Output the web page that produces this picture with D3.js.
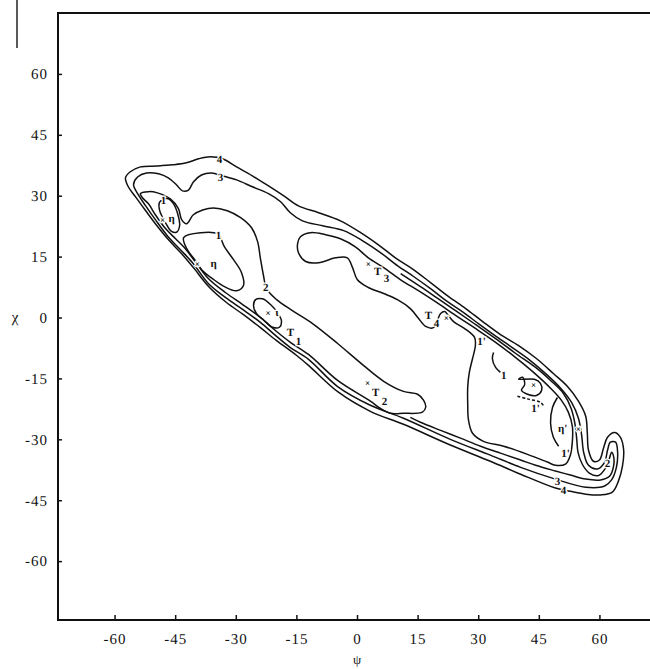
<!DOCTYPE html>
<html>
<head>
<meta charset="utf-8">
<script src="https://cdn.jsdelivr.net/npm/d3@7"></script>
<style>
  body { margin: 0; background: #fff; }
  svg { display: block; }
</style>
</head>
<body>
<div id="chart"></div>
<script>
// psi / chi energy contour map (degrees)
const xTicks = [-60, -45, -30, -15, 0, 15, 30, 45, 60];
const yTicks = [-60, -45, -30, -15, 0, 15, 30, 45, 60];

// outermost contour (4)
const contour4 = [[-57.3,34.4],[-56.1,35.9],[-53.6,37.1],[-49.6,37.3],[-45.7,37.6],[-42.2,38.1],[-39.2,39.1],[-36.3,39.6],[-33.3,39.1],[-29.8,37.1],[-25.9,34.9],[-21.9,32.4],[-18.2,30.0],[-14.5,27.5],[-9.5,25.8],[-4.1,23.8],[0.9,20.9],[5.3,17.9],[9.5,14.7],[13.7,12.0],[18.2,8.6],[22.6,5.2],[26.9,2.2],[31.1,-1.0],[35.5,-4.2],[40.0,-6.9],[44.4,-10.1],[48.6,-13.8],[52.1,-17.0],[54.8,-20.6],[56.6,-24.3],[57.0,-28.5],[57.3,-32.7],[58.5,-35.4],[60.0,-35.1],[61.0,-32.2],[62.0,-29.5],[63.7,-28.3],[65.2,-29.5],[66.0,-32.7],[65.7,-36.6],[64.7,-40.3],[63.2,-43.0],[60.3,-43.7],[56.6,-43.5],[52.8,-42.8],[49.1,-42.0],[40.5,-38.6],[33.0,-35.4],[23.1,-31.4],[11.5,-26.3],[3.3,-23.1],[-4.6,-18.4],[-12.0,-11.8],[-15.0,-9.3],[-19.9,-5.7],[-23.9,-2.5],[-28.1,0.7],[-32.3,3.7],[-36.5,7.4],[-40.5,12.3],[-43.4,15.7],[-46.7,19.2],[-49.9,23.1],[-52.3,26.3],[-54.8,29.7],[-56.6,32.2]];

// contour 3
const contour3 = [[-55.3,32.7],[-54.3,34.6],[-52.1,35.6],[-49.1,35.4],[-46.7,34.4],[-44.7,32.7],[-43.2,31.2],[-41.7,31.4],[-40.5,33.4],[-38.5,35.1],[-36.0,35.6],[-33.3,34.9],[-29.8,33.9],[-25.9,32.2],[-21.9,30.5],[-18.9,28.5],[-16.5,25.8],[-13.5,23.8],[-8.5,22.6],[-3.3,21.4],[1.4,18.9],[5.8,16.0],[10.0,12.8],[14.0,10.1],[18.2,7.1],[22.4,3.9],[26.4,1.2],[30.3,-1.7],[34.5,-4.7],[38.7,-7.6],[42.9,-10.6],[46.9,-14.0],[50.4,-17.4],[53.1,-20.9],[54.8,-24.8],[55.6,-29.0],[56.1,-33.2],[57.3,-36.4],[59.5,-37.3],[61.3,-35.6],[62.0,-32.7],[62.7,-30.7],[64.0,-30.7],[64.5,-33.2],[64.2,-36.9],[63.0,-40.0],[61.3,-41.5],[56.6,-41.8],[49.1,-39.8],[40.5,-36.9],[33.0,-33.9],[23.1,-30.0],[11.5,-24.8],[3.3,-21.6],[-4.8,-17.0],[-12.0,-10.3],[-16.5,-7.4],[-20.2,-4.4],[-23.9,-1.2],[-28.3,2.0],[-32.5,4.9],[-36.8,8.4],[-40.7,13.5],[-43.7,16.7],[-46.9,20.1],[-49.9,24.1],[-52.3,27.5],[-54.1,30.2]];

// contour 2, left part with the T2 lobe
const contour2 = [[-53.6,30.5],[-51.6,31.0],[-49.4,30.7],[-46.2,29.2],[-44.2,26.8],[-43.4,24.1],[-42.2,23.1],[-40.5,25.3],[-38.2,26.5],[-35.5,27.0],[-32.1,26.3],[-28.8,24.6],[-26.1,22.1],[-24.6,18.7],[-23.9,14.5],[-23.1,10.1],[-22.4,7.1],[-19.9,4.4],[-16.0,1.7],[-11.0,-1.5],[-4.8,-6.4],[1.6,-11.8],[6.6,-15.7],[11.5,-18.2],[15.0,-18.9],[16.5,-20.4],[17.0,-22.1],[16.2,-23.3],[11.5,-23.6],[8.3,-23.6],[5.8,-22.4],[3.3,-20.6],[-4.8,-15.5],[-12.0,-9.1],[-16.5,-6.1],[-20.2,-3.2],[-23.9,0.0],[-28.3,3.2],[-32.5,6.1],[-36.8,9.6],[-40.2,14.0],[-42.9,17.4],[-44.9,19.4],[-47.4,21.9],[-49.9,25.3],[-51.6,28.0],[-53.1,29.5]];

// contour 2, right part round the hook (open line)
const contour2Right = [[10.8,10.8],[15.7,7.6],[19.7,4.9],[24.4,1.7],[29.3,-1.7],[34.3,-5.2],[39.2,-8.8],[44.2,-12.3],[47.9,-15.5],[51.1,-18.7],[53.0,-22.4],[54.0,-26.5],[54.4,-30.2],[54.7,-33.2],[55.8,-36.2],[57.5,-38.3],[59.8,-38.9],[61.5,-37.1],[62.5,-34.6],[63.0,-33.2],[63.5,-34.2],[63.5,-36.6],[62.5,-39.1],[60.3,-40.0],[56.6,-39.8],[52.8,-38.8],[49.1,-37.8],[44.2,-36.4],[40.5,-35.1],[35.5,-33.4],[30.6,-31.7],[25.6,-29.7],[20.7,-27.8],[15.7,-25.8],[13.2,-24.6]];

// contour 1, T3 lobe + T4 finger + right basin
const contour1 = [[-14.0,19.9],[-11.5,20.9],[-7.8,20.4],[-4.1,19.4],[-0.4,17.4],[2.8,14.7],[6.6,12.3],[10.8,9.3],[15.2,6.6],[19.7,3.7],[24.4,0.5],[29.3,-2.7],[34.3,-6.1],[39.2,-9.8],[43.7,-13.5],[47.9,-17.4],[50.6,-20.4],[52.3,-23.3],[53.3,-26.8],[53.3,-30.5],[52.8,-33.9],[51.6,-36.1],[49.1,-36.4],[47.1,-35.6],[42.2,-33.7],[36.3,-31.7],[31.3,-30.5],[28.6,-28.5],[27.6,-25.3],[27.4,-21.1],[27.4,-17.2],[27.8,-13.5],[28.6,-10.1],[29.3,-6.9],[29.1,-4.9],[26.9,-2.9],[23.9,-1.0],[22.6,0.5],[21.7,1.5],[20.7,1.0],[19.9,-0.7],[18.9,-2.5],[17.0,-2.2],[15.2,-0.2],[13.2,2.2],[10.0,4.4],[6.6,5.9],[2.8,7.4],[0.1,9.3],[-1.1,12.3],[-2.4,14.7],[-5.3,14.7],[-9.5,13.5],[-12.7,13.8],[-14.5,16.0],[-14.7,18.2]];

// small closed 1-contours
const islandN = [[-42.9,19.7],[-38.7,20.9],[-34.5,20.6],[-32.8,17.4],[-30.6,14.3],[-28.6,11.1],[-28.1,7.9],[-29.8,6.6],[-32.8,7.6],[-35.8,9.6],[-38.2,11.5],[-40.2,14.3],[-42.0,16.7]];
const islandTip = [[-48.9,28.3],[-48.1,29.0],[-46.9,29.3],[-45.4,28.0],[-44.4,25.6],[-43.9,22.6],[-44.7,21.0],[-46.0,21.3],[-47.2,23.0],[-48.2,24.8],[-48.9,26.6]];
const loopL = [[-25.1,4.4],[-23.4,4.6],[-21.4,3.2],[-19.7,1.2],[-18.7,-0.8],[-19.2,-2.4],[-20.9,-2.4],[-23.1,-0.6],[-24.9,1.0],[-25.6,2.8]];
const loopX = [[40.0,-15.2],[41.0,-14.7],[41.5,-16.5],[40.7,-17.9],[42.2,-18.9],[44.4,-19.2],[45.7,-17.9],[45.4,-16.2],[43.9,-15.2]];

// short open arcs inside the right basin
const arcA = [[33.8,-8.6],[33.5,-10.1],[34.3,-12.3],[35.5,-13.5]];
const arcB = [[49.6,-19.7],[48.4,-22.1],[47.9,-26.0],[48.6,-29.5],[49.9,-31.7]];
const arcC = [[39.7,-19.4],[42.4,-20.1],[45.4,-20.9],[46.4,-22.1]];

// contour labels and minimum marks: [text, psi, chi]
const labels = [
  ["4", -34.0, 39.1], ["3", -33.8, 34.6], ["1", -47.9, 29.0],
  ["×", -48.1, 24.1], ["η", -45.9, 24.4], ["1", -34.3, 20.2],
  ["×", -39.5, 13.3], ["η", -35.5, 13.5], ["2", -22.6, 7.4],
  ["×", -22.0, 1.2], ["ι", -19.8, 1.2], ["T", -16.5, -3.7], ["1", -14.5, -5.7],
  ["×", 2.8, 13.3], ["T", 5.1, 11.5], ["3", 7.3, 9.6],
  ["T", 17.7, 0.5], ["4", 19.7, -1.5], ["×", 22.1, -0.2],
  ["×", 2.6, -16.2], ["T", 4.6, -18.4], ["2", 6.8, -20.6],
  ["1'", 30.8, -5.7], ["1", 36.3, -14.3], ["×", 43.7, -16.7], ["1'", 44.2, -22.4],
  ["η'", 50.9, -27.3], ["×", 54.8, -27.3], ["1'", 51.6, -33.4],
  ["2", 62.0, -35.9], ["3", 49.6, -40.3], ["4", 51.1, -42.5]
];

const width = 650, height = 669;
const font = "'Liberation Serif', 'DejaVu Serif', serif";

const svg = d3.select("#chart").append("svg")
    .attr("width", width)
    .attr("height", height)
    .attr("text-rendering", "geometricPrecision");

const x = d3.scaleLinear().domain([-74, 74]).range([58, 656]);
const y = d3.scaleLinear().domain([-74.5, 75]).range([620, 13]);

// frame (right side falls just outside the picture)
svg.append("rect")
    .attr("x", x(-74)).attr("y", y(75))
    .attr("width", x(74) - x(-74)).attr("height", y(-74.5) - y(75))
    .attr("fill", "none").attr("stroke", "#111").attr("stroke-width", 2);

// scan mark at the top left
svg.append("line")
    .attr("x1", 17).attr("x2", 17).attr("y1", 0).attr("y2", 48)
    .attr("stroke", "#222").attr("stroke-width", 1.5);

// axes, ticks point inwards
svg.append("g")
    .attr("transform", `translate(0,${y(-74.5)})`)
    .call(d3.axisBottom(x).tickValues(xTicks).tickSize(-5).tickPadding(13).tickFormat(d => String(d)))
    .call(g => g.select(".domain").remove())
    .call(g => g.selectAll("line").attr("stroke", "#111").attr("stroke-width", 1.5))
    .call(g => g.selectAll("text").attr("font-family", font).attr("font-size", 15)
        .attr("letter-spacing", 1).attr("fill", "#111"));

svg.append("g")
    .attr("transform", `translate(${x(-74)},0)`)
    .call(d3.axisLeft(y).tickValues(yTicks).tickSize(-4).tickPadding(10).tickFormat(d => String(d)))
    .call(g => g.select(".domain").remove())
    .call(g => g.selectAll("line").attr("stroke", "#111").attr("stroke-width", 1.5))
    .call(g => g.selectAll("text").attr("font-family", font).attr("font-size", 15)
        .attr("letter-spacing", 1).attr("fill", "#111"));

// axis names
svg.append("text")
    .attr("x", 15).attr("y", y(0)).attr("dy", "0.32em")
    .attr("text-anchor", "middle")
    .attr("font-family", font).attr("font-size", 15).attr("fill", "#111")
    .text("χ");
svg.append("text")
    .attr("x", x(0)).attr("y", 664)
    .attr("text-anchor", "middle")
    .attr("font-family", font).attr("font-size", 13).attr("fill", "#111")
    .text("ψ");

// contour lines
const contours = [
  {pts: contour4, closed: true},
  {pts: contour3, closed: true},
  {pts: contour2, closed: true},
  {pts: contour2Right, closed: false},
  {pts: contour1, closed: true},
  {pts: islandN, closed: true},
  {pts: islandTip, closed: true},
  {pts: loopL, closed: true},
  {pts: loopX, closed: true},
  {pts: arcA, closed: false},
  {pts: arcB, closed: false},
  {pts: arcC, closed: false, dash: "3,2"}
];

const lineOpen = d3.line().x(d => x(d[0])).y(d => y(d[1])).curve(d3.curveCatmullRom.alpha(0.5));
const lineClosed = d3.line().x(d => x(d[0])).y(d => y(d[1])).curve(d3.curveCatmullRomClosed.alpha(0.5));

svg.append("g")
    .selectAll("path")
    .data(contours)
    .join("path")
      .attr("d", c => (c.closed ? lineClosed : lineOpen)(c.pts))
      .attr("fill", "none")
      .attr("stroke", "#111")
      .attr("stroke-width", 1.5)
      .attr("stroke-linejoin", "round")
      .attr("stroke-dasharray", c => c.dash || null);

// labels, with a white halo so they break the lines like in the print
svg.append("g")
    .selectAll("text")
    .data(labels)
    .join("text")
      .attr("x", d => x(d[1]))
      .attr("y", d => y(d[2]))
      .attr("dy", "0.35em")
      .attr("text-anchor", "middle")
      .attr("font-family", font)
      .attr("font-size", d => d[0] === "×" ? 9 : 11)
      .attr("font-weight", "bold")
      .attr("fill", "#111")
      .attr("stroke", "#fff")
      .attr("stroke-width", 2.5)
      .attr("paint-order", "stroke")
      .text(d => d[0]);
</script>
</body>
</html>
